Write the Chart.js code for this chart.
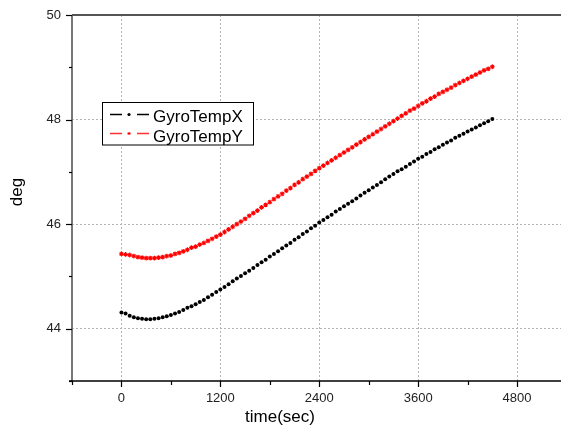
<!DOCTYPE html>
<html>
<head>
<meta charset="utf-8">
<script src="https://cdn.jsdelivr.net/npm/chart.js@4"></script>
<style>
html,body{margin:0;padding:0;overflow:hidden;background:#fff;width:561px;height:437px;}
#wrap{width:575px;height:437px;}
</style>
</head>
<body>
<div id="wrap"><canvas id="c" width="575" height="437"></canvas></div>
<script>
const times = [0,50,100,150,200,250,300,350,400,450,500,550,600,650,700,750,800,850,900,950,
1000,1050,1100,1150,1200,1250,1300,1350,1400,1450,1500,1550,1600,1650,1700,1750,1800,1850,1900,1950,
2000,2050,2100,2150,2200,2250,2300,2350,2400,2450,2500,2550,2600,2650,2700,2750,2800,2850,2900,2950,
3000,3050,3100,3150,3200,3250,3300,3350,3400,3450,3500,3550,3600,3650,3700,3750,3800,3850,3900,3950,
4000,4050,4100,4150,4200,4250,4300,4350,4400,4450,4500];
const gyroTempX = [44.31,44.29,44.25,44.22,44.20,44.19,44.18,44.18,44.19,44.20,
44.22,44.24,44.26,44.29,44.32,44.36,44.40,44.43,44.47,44.51,
44.55,44.60,44.65,44.70,44.75,44.80,44.85,44.91,44.96,45.01,
45.06,45.11,45.16,45.22,45.27,45.32,45.38,45.43,45.48,45.54,
45.59,45.64,45.70,45.75,45.81,45.86,45.92,45.97,46.03,46.08,
46.13,46.18,46.24,46.29,46.34,46.39,46.44,46.49,46.55,46.60,
46.65,46.70,46.75,46.80,46.86,46.91,46.96,47.01,47.05,47.10,
47.15,47.20,47.25,47.29,47.34,47.38,47.43,47.47,47.52,47.56,
47.60,47.65,47.69,47.73,47.77,47.81,47.85,47.89,47.93,47.97,48.01];
const gyroTempY = [45.43,45.42,45.41,45.39,45.37,45.36,45.35,45.35,45.35,45.36,
45.37,45.39,45.40,45.43,45.45,45.48,45.51,45.55,45.57,45.61,
45.64,45.68,45.72,45.76,45.80,45.85,45.90,45.95,46.00,46.05,
46.10,46.16,46.21,46.26,46.32,46.37,46.42,46.48,46.53,46.58,
46.64,46.69,46.75,46.80,46.86,46.91,46.96,47.02,47.07,47.12,
47.17,47.22,47.27,47.32,47.37,47.42,47.47,47.52,47.57,47.62,
47.67,47.72,47.77,47.82,47.87,47.92,47.97,48.02,48.07,48.12,
48.17,48.21,48.26,48.31,48.35,48.40,48.44,48.49,48.53,48.57,
48.61,48.66,48.70,48.74,48.78,48.82,48.86,48.90,48.94,48.97,49.01];
const seriesNames = ['GyroTempX','GyroTempY'];
const xMajorTicks = [0,1200,2400,3600,4800];
const yMajorTicks = [44,46,48,50];
const xTitle = 'time(sec)';
const yTitle = 'deg';

const FONT = "'Liberation Sans', Arial, sans-serif";

const framePlugin = {
  id: 'frame',
  afterDraw(chart) {
    const ctx = chart.ctx;
    const a = chart.chartArea;
    const xs = chart.scales.x, ys = chart.scales.y;
    ctx.save();
    // left axis
    ctx.strokeStyle = '#777';
    ctx.lineWidth = 2;
    ctx.beginPath(); ctx.moveTo(a.left, a.top); ctx.lineTo(a.left, a.bottom + 1); ctx.stroke();
    // top border
    ctx.strokeStyle = '#555';
    ctx.beginPath(); ctx.moveTo(a.left, a.top); ctx.lineTo(a.right, a.top); ctx.stroke();
    // bottom axis
    ctx.strokeStyle = '#000';
    ctx.lineWidth = 1.5;
    ctx.beginPath(); ctx.moveTo(a.left - 3, a.bottom); ctx.lineTo(a.right, a.bottom); ctx.stroke();
    // y ticks
    ctx.lineWidth = 1.2;
    ctx.strokeStyle = '#000';
    for (let v = ys.min; v <= ys.max; v += 1) {
      const y = Math.round(ys.getPixelForValue(v)) + 0.5;
      const len = yMajorTicks.includes(v) ? 6 : 3;
      ctx.beginPath(); ctx.moveTo(a.left - len, y); ctx.lineTo(a.left, y); ctx.stroke();
    }
    // x ticks
    for (let v = xs.min; v <= xs.max; v += 600) {
      const x = Math.round(xs.getPixelForValue(v)) + 0.5;
      const len = xMajorTicks.includes(v) ? 6 : 4;
      ctx.beginPath(); ctx.moveTo(x, a.bottom); ctx.lineTo(x, a.bottom + len); ctx.stroke();
    }
    // titles
    ctx.fillStyle = '#000';
    ctx.font = '17px ' + FONT;
    ctx.textAlign = 'center';
    ctx.textBaseline = 'alphabetic';
    ctx.fillText(xTitle, 280, 422);
    ctx.save();
    ctx.translate(22, 192);
    ctx.rotate(-Math.PI / 2);
    ctx.fillText(yTitle, 0, 0);
    ctx.restore();
    // legend
    ctx.fillStyle = '#fff';
    ctx.fillRect(102.5, 102.5, 151, 42.5);
    ctx.strokeStyle = '#000';
    ctx.lineWidth = 1;
    ctx.strokeRect(102.5, 102.5, 151, 42.5);
    const rows = [
      {y: 114.5, line: '#000', mark: '#000', star: false, base: 122},
      {y: 133.5, line: '#ff3030', mark: '#ff0000', star: true, base: 141.5}
    ];
    rows.forEach((r, i) => {
      ctx.strokeStyle = r.line;
      ctx.lineWidth = 1.4;
      ctx.beginPath();
      ctx.moveTo(110, r.y); ctx.lineTo(122, r.y);
      ctx.moveTo(137, r.y); ctx.lineTo(149, r.y);
      ctx.stroke();
      if (r.star) {
        ctx.strokeStyle = r.mark;
        ctx.lineWidth = 1;
        ctx.beginPath();
        ctx.moveTo(127.5, r.y); ctx.lineTo(130.5, r.y);
        ctx.moveTo(129, r.y - 1.5); ctx.lineTo(129, r.y + 1.5);
        ctx.moveTo(128, r.y - 1); ctx.lineTo(130, r.y + 1);
        ctx.moveTo(130, r.y - 1); ctx.lineTo(128, r.y + 1);
        ctx.stroke();
      } else {
        ctx.fillStyle = r.mark;
        ctx.beginPath(); ctx.arc(129, r.y, 1.6, 0, Math.PI * 2); ctx.fill();
      }
      ctx.fillStyle = '#000';
      ctx.font = '17px ' + FONT;
      ctx.textAlign = 'left';
      ctx.textBaseline = 'alphabetic';
      ctx.fillText(seriesNames[i], 153, r.base);
    });
    ctx.restore();
  }
};

const toPts = (vals) => times.map((t, i) => ({x: t, y: vals[i]}));

new Chart(document.getElementById('c'), {
  type: 'scatter',
  data: {
    datasets: [
      {label: seriesNames[0], data: toPts(gyroTempX), pointStyle: 'circle', pointRadius: 2,
       backgroundColor: '#000', borderColor: '#000', borderWidth: 0, showLine: false},
      {label: seriesNames[1], data: toPts(gyroTempY), pointStyle: 'star', pointRadius: 2.4,
       backgroundColor: '#ff0000', borderColor: '#ff0000', borderWidth: 1.1, showLine: false}
    ]
  },
  options: {
    responsive: false,
    animation: false,
    devicePixelRatio: 1,
    layout: {padding: {top: 15, left: 0, right: 8.5, bottom: 0}},
    plugins: {legend: {display: false}, tooltip: {enabled: false}},
    scales: {
      x: {
        type: 'linear', min: -600, max: 5400,
        afterFit(s) { s.height = 56; s.paddingLeft = 0; s.paddingRight = 0; },
        ticks: {
          stepSize: 600, autoSkip: false, maxRotation: 0, padding: 10,
          color: '#222', font: {family: FONT, size: 13},
          callback: (v) => xMajorTicks.includes(v) ? String(v) : ''
        },
        grid: {
          drawTicks: false,
          lineWidth: 1,
          color: (c) => (c.tick && xMajorTicks.includes(c.tick.value)) ? '#b4b4b4' : 'rgba(0,0,0,0)'
        },
        border: {display: false, dash: [2, 2]}
      },
      y: {
        type: 'linear', min: 43, max: 50,
        afterFit(s) { s.width = 72; s.paddingTop = 0; s.paddingBottom = 0; },
        ticks: {
          stepSize: 1, autoSkip: false, padding: 11,
          color: '#222', font: {family: FONT, size: 13},
          callback: (v) => yMajorTicks.includes(v) ? String(v) : ''
        },
        grid: {
          drawTicks: false,
          lineWidth: 1,
          color: (c) => (c.tick && yMajorTicks.includes(c.tick.value) && c.tick.value < 50) ? '#b4b4b4' : 'rgba(0,0,0,0)'
        },
        border: {display: false, dash: [2, 2]}
      }
    }
  },
  plugins: [framePlugin]
});
</script>
</body>
</html>
